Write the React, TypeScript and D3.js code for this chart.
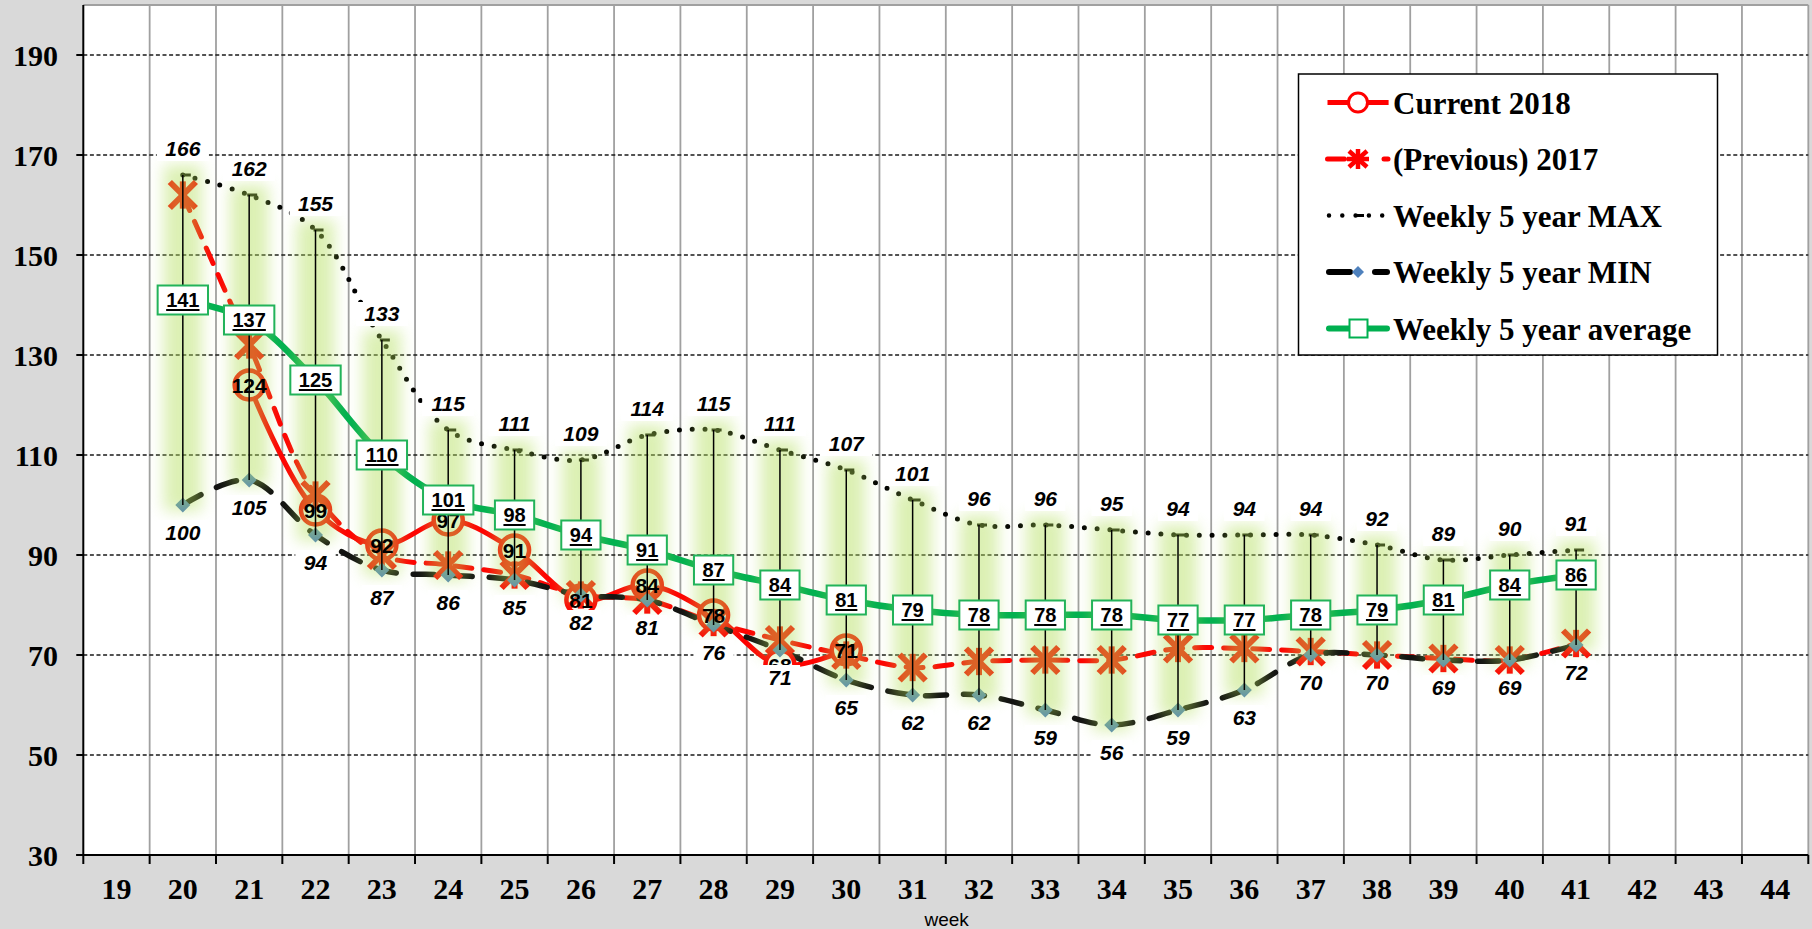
import React from 'react';
import * as d3 from 'd3';

const tickWeeks = ['19','20','21','22','23','24','25','26','27','28','29','30','31','32','33','34','35','36','37','38','39','40','41','42','43','44'];
const yTicks = [30, 50, 70, 90, 110, 130, 150, 170, 190];

const weeks = [20,21,22,23,24,25,26,27,28,29,30,31,32,33,34,35,36,37,38,39,40,41];
const maxVals = [166,162,155,133,115,111,109,114,115,111,107,101,96,96,95,94,94,94,92,89,90,91];
const minVals = [100,105,94,87,86,85,82,81,76,71,65,62,62,59,56,59,63,70,70,69,69,72];
const avgVals = [141,137,125,110,101,98,94,91,87,84,81,79,78,78,78,77,77,78,79,81,84,86];
const prevVals = [162,132,102,90,88,86,82,81,76.5,73,70,67.5,68.7,69,69,71.3,71.3,70.7,70,69.3,69,72.3];

const currentWeeks = [21,22,23,24,25,26,27,28,29,30];
const currentVals = [124,99,92,97,91,81,84,78,68,71];

const legendItems = ['Current 2018', '(Previous) 2017', 'Weekly 5 year MAX', 'Weekly 5 year MIN', 'Weekly 5 year average'];

const SERIF = '"Liberation Serif", "Times New Roman", serif';
const SANS = '"Liberation Sans", Arial, sans-serif';
const RED = '#ff0000';
const GREEN = '#00b050';
const BLUE = '#4f81bd';

export default function App() {
  const W = 1812, H = 929;
  const left = 83.3, right = 1808.3, top = 5, bottom = 855;
  const x = d3.scaleBand<string>().domain(tickWeeks).range([left, right]).padding(0);
  const bw = x.bandwidth();
  const cx = (w: number) => (x(String(w)) as number) + bw / 2;
  const y = d3.scaleLinear().domain([30, 200]).range([bottom, top]);

  const line = d3.line<[number, number]>()
    .x(d => cx(d[0]))
    .y(d => y(d[1]))
    .curve(d3.curveCatmullRom.alpha(0.5));

  const maxPts = weeks.map((w, i) => [w, maxVals[i]] as [number, number]);
  const minPts = weeks.map((w, i) => [w, minVals[i]] as [number, number]);
  const avgPts = weeks.map((w, i) => [w, avgVals[i]] as [number, number]);
  const prevPts = weeks.map((w, i) => [w, prevVals[i]] as [number, number]);
  const curPts = currentWeeks.map((w, i) => [w, currentVals[i]] as [number, number]);

  const boundaries = tickWeeks.map(t => x(t) as number).concat([right]);
  const digitW = 11.12;
  const lblFs = 21;
  const lblDigit = lblFs * 0.556;

  const legX0 = 1327.5, legX1 = 1388.6, legMid = 1358;
  const legRows = [102.5, 159, 215.5, 272, 328.5];

  const star = (px: number, py: number, s: number, color: string, sw: number, key: string) => (
    <g key={key} stroke={color} strokeWidth={sw} strokeLinecap="butt">
      <line x1={px - s} y1={py - s} x2={px + s} y2={py + s} />
      <line x1={px - s} y1={py + s} x2={px + s} y2={py - s} />
      <line x1={px} y1={py - s * 1.05} x2={px} y2={py + s * 1.05} />
    </g>
  );

  return (
    <svg width={W} height={H} style={{ position: 'absolute', left: 0, top: 0, display: 'block' }}>
      <defs>
        <filter id="glowBlur" filterUnits="userSpaceOnUse" x={0} y={0} width={W} height={H}>
          <feGaussianBlur stdDeviation={7.5} />
        </filter>
      </defs>
      <rect x={0} y={0} width={W} height={H} fill="#d9d9d9" />
      <rect x={left} y={top} width={right - left} height={bottom - top} fill="#ffffff" />

      {/* vertical gridlines */}
      {boundaries.slice(1).map((bx, i) => (
        <line key={'vg' + i} x1={bx} y1={top} x2={bx} y2={bottom} stroke="#a0a0a0" strokeWidth={1.8} />
      ))}
      <line x1={left} y1={top} x2={right} y2={top} stroke="#a0a0a0" strokeWidth={2} />
      {/* horizontal gridlines */}
      {yTicks.filter(t => t > 30).map(t => (
        <line key={'hg' + t} x1={left} y1={y(t)} x2={right} y2={y(t)} stroke="#1a1a1a" strokeWidth={1.3} strokeDasharray="4 2.6" />
      ))}

      {/* axes */}
      <line x1={left} y1={top} x2={left} y2={bottom} stroke="#000" strokeWidth={2} />
      <line x1={left - 7} y1={bottom} x2={right} y2={bottom} stroke="#000" strokeWidth={2} />
      {yTicks.map(t => (
        <g key={'yt' + t}>
          <line x1={left - 7} y1={y(t)} x2={left} y2={y(t)} stroke="#000" strokeWidth={2} />
          <text x={58} y={y(t) + 10.5} textAnchor="end" fontFamily={SERIF} fontWeight="bold" fontSize={30} fill="#000">{t}</text>
        </g>
      ))}
      {boundaries.map((bx, i) => (
        <line key={'xt' + i} x1={bx} y1={bottom} x2={bx} y2={bottom + 9} stroke="#000" strokeWidth={2} />
      ))}
      {tickWeeks.map(t => (
        <text key={'xl' + t} x={(x(t) as number) + bw / 2} y={899} textAnchor="middle" fontFamily={SERIF} fontWeight="bold" fontSize={30} fill="#000">{t}</text>
      ))}
      <text x={946.7} y={925.5} textAnchor="middle" fontFamily={SANS} fontSize={19} fill="#000">week</text>

      {/* series lines */}
      <path d={line(curPts) || ''} fill="none" stroke={RED} strokeWidth={5} strokeLinejoin="round" />
      <path d={line(prevPts) || ''} fill="none" stroke={RED} strokeWidth={5} strokeDasharray="17 12" strokeLinecap="round" />
      <path d={line(avgPts) || ''} fill="none" stroke={GREEN} strokeWidth={6.5} strokeLinejoin="round" />
      <path d={line(minPts) || ''} fill="none" stroke="#111" strokeWidth={5.5} strokeDasharray="21 17" strokeLinecap="round" />
      <path d={line(maxPts) || ''} fill="none" stroke="#000" strokeWidth={5} strokeDasharray="0 12.8" strokeLinecap="round" />

      {/* markers */}
      {curPts.map((p, i) => (
        <circle key={'cm' + i} cx={cx(p[0])} cy={y(p[1])} r={14.5} fill="#ffffff" stroke={RED} strokeWidth={4.5} />
      ))}
      {prevPts.map((p, i) => star(cx(p[0]), y(p[1]), 13, RED, 6, 'pm' + i))}
      {minPts.map((p, i) => {
        const px = cx(p[0]), py = y(p[1]);
        return <path key={'mm' + i} d={`M${px},${py - 7.5}L${px + 7.5},${py}L${px},${py + 7.5}L${px - 7.5},${py}Z`} fill={BLUE} />;
      })}
      {maxPts.map((p, i) => (
        <line key={'xm' + i} x1={cx(p[0]) - 2} y1={y(p[1])} x2={cx(p[0]) + 8} y2={y(p[1])} stroke="#000" strokeWidth={3} />
      ))}

      {/* glow around high-low bars */}
      <g filter="url(#glowBlur)" opacity={0.45}>
        {weeks.map((w, i) => (
          <rect key={'gl' + i} x={cx(w) - 19} y={y(maxVals[i]) - 10} width={38} height={y(minVals[i]) - y(maxVals[i]) + 16} fill="#b1de58" />
        ))}
      </g>

      {/* high-low bars */}
      {weeks.map((w, i) => (
        <line key={'eb' + i} x1={cx(w)} y1={y(maxVals[i])} x2={cx(w)} y2={y(minVals[i])} stroke="#000" strokeWidth={1.5} />
      ))}

      {/* current labels */}
      {curPts.map((p, i) => (
        <text key={'cl' + i} x={cx(p[0])} y={y(p[1]) + 7.5} textAnchor="middle" fontFamily={SANS} fontWeight="bold" fontSize={21} fill="#000">{p[1]}</text>
      ))}

      {/* average labels */}
      {avgPts.map((p, i) => {
        const s = String(p[1]);
        const tw = s.length * digitW;
        const bwid = tw + 17;
        const px = cx(p[0]), py = y(p[1]);
        return (
          <g key={'al' + i}>
            <rect x={px - bwid / 2} y={py - 14.5} width={bwid} height={29} fill="#fff" stroke="#22b35a" strokeWidth={2} />
            <text x={px} y={py + 7} textAnchor="middle" fontFamily={SANS} fontWeight="bold" fontSize={20} fill="#000">{s}</text>
            <line x1={px - tw / 2} y1={py + 10} x2={px + tw / 2} y2={py + 10} stroke="#000" strokeWidth={2} />
          </g>
        );
      })}

      {/* max labels */}
      {maxPts.map((p, i) => {
        const s = String(p[1]);
        const bwid = s.length * lblDigit + 17;
        const px = cx(p[0]), b = y(p[1]) - 19;
        return (
          <g key={'mxl' + i}>
            <rect x={px - bwid / 2} y={b - 19} width={bwid} height={24} fill="#fff" />
            <text x={px} y={b} textAnchor="middle" fontFamily={SANS} fontWeight="bold" fontStyle="italic" fontSize={lblFs} fill="#000">{s}</text>
          </g>
        );
      })}

      {/* min labels */}
      {minPts.map((p, i) => {
        const s = String(p[1]);
        const bwid = s.length * lblDigit + 17;
        const px = cx(p[0]), b = y(p[1]) + 35;
        return (
          <g key={'mnl' + i}>
            <rect x={px - bwid / 2} y={b - 20} width={bwid} height={26} fill="#fff" />
            <text x={px} y={b} textAnchor="middle" fontFamily={SANS} fontWeight="bold" fontStyle="italic" fontSize={lblFs} fill="#000">{s}</text>
          </g>
        );
      })}

      {/* legend */}
      <rect x={1298.5} y={74} width={419} height={281} fill="#fff" stroke="#000" strokeWidth={1.5} />
      {/* row 1 */}
      <line x1={legX0} y1={legRows[0]} x2={legX1} y2={legRows[0]} stroke={RED} strokeWidth={5} />
      <circle cx={legMid} cy={legRows[0]} r={9.5} fill="#fff" stroke={RED} strokeWidth={3} />
      {/* row 2 */}
      <line x1={legX0} y1={legRows[1]} x2={1344.5} y2={legRows[1]} stroke={RED} strokeWidth={5} strokeLinecap="round" />
      <line x1={1384} y1={legRows[1]} x2={1388} y2={legRows[1]} stroke={RED} strokeWidth={5} strokeLinecap="round" />
      <g stroke={RED} strokeWidth={4.5}>
        <line x1={legMid - 9} y1={legRows[1] - 8} x2={legMid + 9} y2={legRows[1] + 8} />
        <line x1={legMid - 9} y1={legRows[1] + 8} x2={legMid + 9} y2={legRows[1] - 8} />
        <line x1={legMid} y1={legRows[1] - 10} x2={legMid} y2={legRows[1] + 10} />
        <line x1={legMid - 11} y1={legRows[1]} x2={legMid + 11} y2={legRows[1]} />
      </g>
      {/* row 3 */}
      <line x1={1329} y1={legRows[2]} x2={1388} y2={legRows[2]} stroke="#000" strokeWidth={4.5} strokeDasharray="0 13.3" strokeLinecap="round" />
      <line x1={1354} y1={legRows[2]} x2={1364} y2={legRows[2]} stroke="#000" strokeWidth={3} />
      {/* row 4 */}
      <line x1={1329} y1={legRows[3]} x2={1350} y2={legRows[3]} stroke="#000" strokeWidth={6} strokeLinecap="round" />
      <line x1={1375} y1={legRows[3]} x2={1387} y2={legRows[3]} stroke="#000" strokeWidth={6} strokeLinecap="round" />
      <path d={`M${legMid},${legRows[3] - 6}L${legMid + 6},${legRows[3]}L${legMid},${legRows[3] + 6}L${legMid - 6},${legRows[3]}Z`} fill={BLUE} />
      {/* row 5 */}
      <line x1={1329} y1={legRows[4]} x2={1387} y2={legRows[4]} stroke={GREEN} strokeWidth={6} strokeLinecap="round" />
      <rect x={1349.5} y={legRows[4] - 9} width={18} height={18} fill="#fff" stroke={GREEN} strokeWidth={2} />
      {legendItems.map((t, i) => (
        <text key={'lt' + i} x={1393} y={legRows[i] + 11} fontFamily={SERIF} fontWeight="bold" fontSize={31} fill="#000">{t}</text>
      ))}
    </svg>
  );
}
